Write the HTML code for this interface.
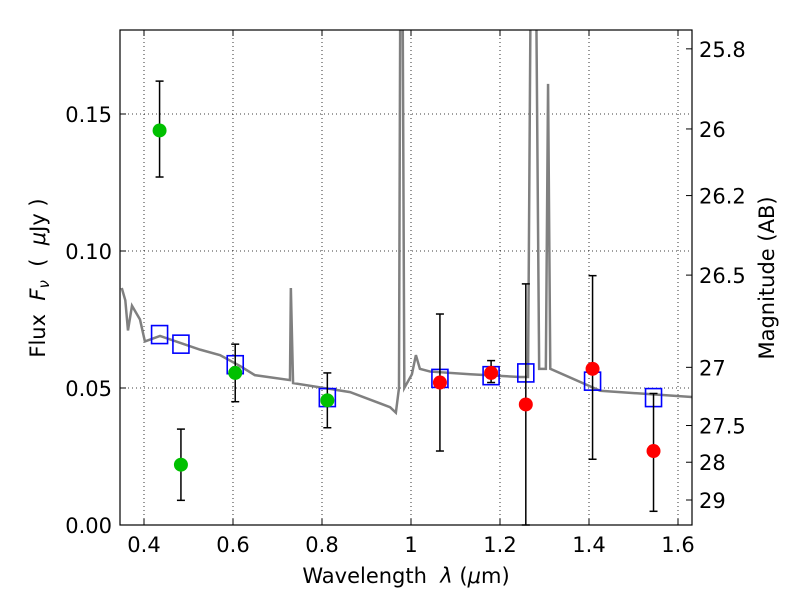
<!DOCTYPE html>
<html><head><meta charset="utf-8"><style>
body{margin:0;background:#fff;width:800px;height:600px;overflow:hidden}
text{font-family:"DejaVu Sans","Liberation Sans",sans-serif;fill:#000}
</style></head><body>
<svg id="chart" width="800" height="600"></svg>
<script>
const specLam=[0.35,0.358,0.364,0.373,0.391,0.402,0.436,0.526,0.571,0.616,0.649,0.728,0.730,0.735,0.863,0.953,0.966,0.973,0.976,0.981,0.985,1.002,1.011,1.020,1.043,1.133,1.245,1.263,1.269,1.281,1.288,1.294,1.303,1.308,1.313,1.425,1.631];
const specFlux=[0.0865,0.082,0.071,0.080,0.075,0.067,0.069,0.064,0.062,0.058,0.0547,0.0529,0.0865,0.0518,0.0485,0.043,0.041,0.050,0.2,0.2,0.050,0.055,0.062,0.057,0.056,0.055,0.054,0.054,0.2,0.2,0.057,0.057,0.057,0.161,0.057,0.049,0.0467];
const greenLam=[0.435,0.483,0.605,0.812];
const greenFlux=[0.144,0.022,0.0555,0.0455];
const greenLo=[0.127,0.009,0.045,0.0355];
const greenHi=[0.162,0.035,0.066,0.0555];
const redLam=[1.065,1.18,1.258,1.408,1.545];
const redFlux=[0.052,0.0555,0.044,0.057,0.027];
const redLo=[0.027,0.052,0,0.024,0.005];
const redHi=[0.077,0.060,0.088,0.091,0.048];
const modelLam=[0.435,0.483,0.605,0.812,1.065,1.18,1.258,1.408,1.545];
const modelFlux=[0.0695,0.066,0.0585,0.0465,0.0535,0.0545,0.0555,0.0525,0.0465];
const xTicks=[0.4,0.6,0.8,1.0,1.2,1.4,1.6];
const xTickLabels=["0.4","0.6","0.8","1","1.2","1.4","1.6"];
const yTicks=[0,0.05,0.10,0.15];
const yTickLabels=["0.00","0.05","0.10","0.15"];
const magTicks=[25.8,26,26.2,26.5,27,27.5,28,29];
const magLabels=["25.8","26","26.2","26.5","27","27.5","28","29"];

const L=120,R=692,T=30,B=525;
const X=v=>144+(v-0.4)*445;
const Y=v=>525-v*2740;
const svg=document.getElementById('chart');
const NS='http://www.w3.org/2000/svg';
function mk(tag,attrs,parent){const e=document.createElementNS(NS,tag);for(const k in attrs)e.setAttribute(k,attrs[k]);(parent||svg).appendChild(e);return e;}
const defs=mk('defs',{});const cp=mk('clipPath',{id:'clip'},defs);mk('rect',{x:L,y:T,width:R-L,height:B-T},cp);
xTicks.forEach((t,i)=>{
 const g=mk('line',{x1:X(t),x2:X(t),y1:T,y2:B,stroke:'#000','stroke-dasharray':'1,3','stroke-width':0.8});
 
 mk('line',{x1:X(t),x2:X(t),y1:B,y2:B-6,stroke:'#000'});mk('line',{x1:X(t),x2:X(t),y1:T,y2:T+6,stroke:'#000'});
 const tx=mk('text',{x:X(t),y:552,'text-anchor':'middle','font-size':21});tx.textContent=xTickLabels[i];
 
});
yTicks.forEach((t,i)=>{
 const g=mk('line',{x1:L,x2:R,y1:Y(t),y2:Y(t),stroke:'#000','stroke-dasharray':'1,3','stroke-width':0.8});
 
 mk('line',{x1:L,x2:L+6,y1:Y(t),y2:Y(t),stroke:'#000'});
 const tx=mk('text',{x:112,y:Y(t)+8,'text-anchor':'end','font-size':21});tx.textContent=yTickLabels[i];
 
});
magTicks.forEach((m,i)=>{
 const y=Y(Math.pow(10,(23.9-m)/2.5));
 mk('line',{x1:R,x2:R-6,y1:y,y2:y,stroke:'#000'});
 const tx=mk('text',{x:699,y:y+8,'font-size':21});tx.textContent=magLabels[i];
 
});
const sp=mk('polyline',{points:specLam.map((l,i)=>X(l)+','+Y(specFlux[i])).join(' '),fill:'none',stroke:'#808080','stroke-width':2.5,'clip-path':'url(#clip)'});

modelLam.forEach((l,i)=>{
 const r=mk('rect',{x:X(l)-8,y:Y(modelFlux[i])-9,width:16,height:18,fill:'none',stroke:'#0000ff','stroke-width':1.6});
 
});
function pts(lams,fl,lo,hi,col,name){
 lams.forEach((l,i)=>{
  const x=X(l);
  mk('line',{x1:x,x2:x,y1:Y(lo[i]),y2:Y(hi[i]),stroke:'#000','stroke-width':1.5});
  mk('line',{x1:x-4,x2:x+4,y1:Y(lo[i]),y2:Y(lo[i]),stroke:'#000','stroke-width':1.5});
  mk('line',{x1:x-4,x2:x+4,y1:Y(hi[i]),y2:Y(hi[i]),stroke:'#000','stroke-width':1.5});
  const c=mk('circle',{cx:x,cy:Y(fl[i]),r:7,fill:col});
  
 });
}
pts(greenLam,greenFlux,greenLo,greenHi,'#00c000','optical-detection-point');
pts(redLam,redFlux,redLo,redHi,'#ff0000','nir-detection-point');
const fr=mk('rect',{x:L,y:T,width:R-L,height:B-T,fill:'none',stroke:'#000','stroke-width':1.2});

</script>
<svg width="800" height="600" style="position:absolute;left:0;top:0">
<text x="406" y="583" text-anchor="middle" font-size="21" xml:space="preserve">Wavelength  <tspan font-style="italic">λ</tspan> (<tspan font-style="italic">μ</tspan>m)</text>
<text transform="translate(45,278) rotate(-90)" text-anchor="middle" font-size="21" xml:space="preserve">Flux  <tspan font-style="italic">F<tspan font-size="15" dy="4">ν</tspan></tspan><tspan dy="-4">  (  </tspan><tspan font-style="italic">μ</tspan>Jy )</text>
<text transform="translate(774,278) rotate(-90)" text-anchor="middle" font-size="21">Magnitude (AB)</text>
</svg>
</body></html>
